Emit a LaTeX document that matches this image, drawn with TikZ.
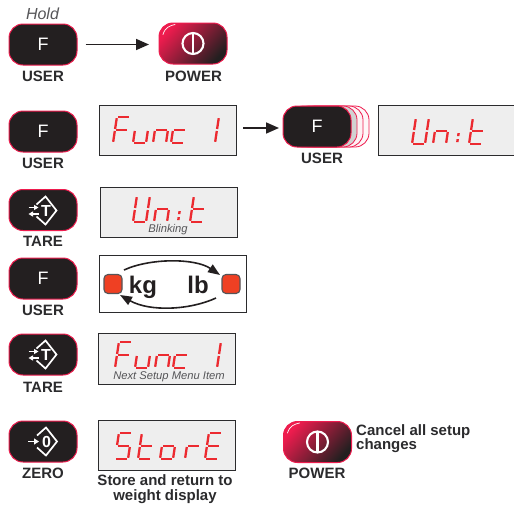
\documentclass[tikz,border=0pt]{standalone}
\usepackage{fontspec}
\setmainfont{Liberation Sans}
\newfontfamily\medfont{Liberation Sans Bold}
\usetikzlibrary{arrows.meta}
\definecolor{btnblack}{HTML}{231F20}
\definecolor{btnred}{HTML}{EE1C4E}
\definecolor{segred}{HTML}{EC2A30}
\definecolor{dispbg}{HTML}{EEEEEE}
\definecolor{inkdark}{HTML}{2B2B2D}
\definecolor{capgray}{HTML}{555558}
\definecolor{ledred}{HTML}{EF4023}
\tikzset{
  btnbox/.style={draw=btnred,line width=1pt,fill=btnblack,rounded corners=14pt,minimum width=68pt,minimum height=41pt,inner sep=0pt,text=white,font=\fontsize{18}{18}\selectfont},
  pwrbox/.style={draw=btnred,line width=1pt,rounded corners=14pt,minimum width=68pt,minimum height=41pt,inner sep=0pt,top color=btnred,middle color=btnred!78!btnblack,bottom color=btnblack,shading angle=48},
  stackbox/.style={draw=btnred,line width=.8pt,rounded corners=14pt,minimum width=68pt,minimum height=41pt,inner sep=0pt},
  keylabel/.style={text=inkdark,font=\medfont\fontsize{15}{15}\selectfont,inner sep=0pt},
  bodytext/.style={text=inkdark,font=\medfont\fontsize{15}{15}\selectfont,inner sep=0pt,align=center},
  dispbox/.style={draw=inkdark,line width=1pt,fill=dispbg,inner sep=0pt},
  capnote/.style={text=capgray,font=\itshape\fontsize{11.2}{11}\selectfont,inner sep=0pt},
  flow/.style={draw=btnblack,line width=1.7pt,-{Triangle[length=13pt,width=11pt]}},
  swing/.style={draw=btnblack,line width=1.6pt,-{Triangle[length=12pt,width=9pt]}},
  segline/.style={draw=segred,line width=2.3pt},
  icon/.style={draw=white,line width=1.5pt},
  ledbox/.style={draw=capgray,line width=1.1pt,fill=ledred,rounded corners=4pt,minimum width=18pt,minimum height=19pt,inner sep=0pt},
  ghost/.style={opacity=0,text opacity=0,inner sep=0pt}
}
\def\W{13}\def\gp{1.2}
\pgfmathsetmacro\Wg{13-1.2}
\newcommand\sga{\draw[segline] (\gp,-26)--(\Wg,-26);}
\newcommand\sgb{\draw[segline] (\W,-24.8)--(\W,-14);}
\newcommand\sgc{\draw[segline] (\W,-12)--(\W,-1.2);}
\newcommand\sgd{\draw[segline] (\gp,0)--(\Wg,0);}
\newcommand\sge{\draw[segline] (0,-12)--(0,-1.2);}
\newcommand\sgf{\draw[segline] (0,-24.8)--(0,-14);}
\newcommand\sgg{\draw[segline] (\gp,-13)--(\Wg,-13);}
\newcommand\segch[3]{\begin{scope}[shift={(#1,#2)},xslant=.15]
  \foreach \s in {#3}{\csname sg\s\endcsname}\end{scope}}
\newcommand\segdots[2]{\begin{scope}[shift={(#1,#2)},xslant=.15]
  \fill[segred] (-1.2,-11) rectangle (1.2,-8);\fill[segred] (-1.2,-5) rectangle (1.2,-2);\end{scope}}
\newcommand\wordFunc[2]{\begin{scope}[shift={(#1,#2)}]
  \segch{0}{0}{a,e,f,g}\segch{20}{0}{c,d,e}\segch{40}{0}{c,e,g}\segch{58}{0}{d,e,g}\segch{89}{0}{b,c}\end{scope}}
\newcommand\wordUnit[2]{\begin{scope}[shift={(#1,#2)}]
  \segch{0}{0}{b,c,d,e,f}\segch{21}{0}{c,e,g}\segdots{45}{0}\segch{57}{0}{d,e,f,g}\end{scope}}
\newcommand\tareicon[2]{\begin{scope}[shift={(#1,#2)}]
  \draw[icon,line width=1.7pt] (-7,-6)--(2,-14)--(13,0)--(2,14)--(-7,6);
  \node[text=white,inner sep=0pt,font=\bfseries\fontsize{16}{16}\selectfont] at (2.5,.5) {T};
  \draw[icon,-{Triangle[length=4.5pt,width=5pt]}] (-15,-3)--(-5,-3);
  \draw[icon,-{Triangle[length=4.5pt,width=5pt]}] (-5,3.5)--(-15,3.5);
\end{scope}}
\newcommand\zeroicon[2]{\begin{scope}[shift={(#1,#2)}]
  \draw[icon,line width=1.7pt] (-7,-6)--(2,-14)--(13,0)--(2,14)--(-7,6);
  \node[text=white,inner sep=0pt,font=\bfseries\fontsize{16}{16}\selectfont] at (2.5,.5) {0};
  \draw[icon,-{Triangle[length=5pt,width=6pt]}] (-16,0)--(-5,0);
\end{scope}}
\newcommand\pwricon[2]{\begin{scope}[shift={(#1,#2)}]
  \draw[icon,line width=2.1pt] (0,0) circle (10.5);
  \draw[icon,line width=2.1pt] (0,-10.5)--(0,10.5);
\end{scope}}
\newcommand\shine[2]{\draw[white,line width=.7pt,line cap=round] (#1-30,#2-9) .. controls (#1-28,#2-16) and (#1-23,#2-18) .. (#1-18,#2-19);}
\begin{document}
\begin{tikzpicture}[x=1pt,y=-1pt]
\useasboundingbox (0,0) rectangle (514,507);
\fill[white] (0,0) rectangle (514,507);

% row 1
\node[capnote,font=\itshape\fontsize{16}{16}\selectfont] (hold) at (42.5,13.5) {Hold};
\node[btnbox] (user1) at (43,44.5) {F};
\node[keylabel] (user1l) at (43,76.5) {USER};
\node[pwrbox] (power1) at (193,43.5) {};
\pwricon{193}{43.5}\shine{193}{43.5}
\node[keylabel] (power1l) at (193.5,76) {POWER};
\draw[flow,shorten >=9.5pt,shorten <=8pt] (user1.east) -- (user1.east -| power1.west);

% row 2
\node[btnbox] (user2) at (43,131.5) {F};
\node[keylabel] (user2l) at (43,163) {USER};
\node[dispbox,minimum width=137pt,minimum height=50pt] (disp1) at (168,130) {};
\wordFunc{113}{143}
\node[stackbox,fill=btnred!4] (st3) at (335,126.5) {};
\node[stackbox,fill=btnred!6] (st2) at (329,126.5) {};
\node[stackbox,fill=black!18] (st1) at (323,126.5) {};
\node[btnbox] (user3) at (317,126.5) {F};
\node[keylabel] (user3l) at (322,158) {USER};
\coordinate (a2) at (279,128);
\coordinate (a1) at (243,128);
\draw[flow] (a1) -- (a2);
\draw[draw=inkdark,line width=1pt,fill=dispbg] (514,105.5) -- (378.5,105.5) -- (378.5,155) -- (514,155);
\wordUnit{412}{144}

% row 3
\node[btnbox] (tare1) at (43,210) {};
\tareicon{43.5}{210.5}
\node[keylabel] (tare1l) at (43,241.5) {TARE};
\node[dispbox,minimum width=137pt,minimum height=50pt] (disp3) at (168.5,212) {};
\wordUnit{133}{222}
\node[capnote] (blink) at (168,230) {Blinking};

% row 4
\node[btnbox] (user4) at (43,278.5) {F};
\node[keylabel] (user4l) at (43,310.5) {USER};
\node[dispbox,fill=white,minimum width=147pt,minimum height=57pt] (disp4) at (172.5,283.5) {};
\node[ledbox] (ledL) at (113,284) {};
\node[ledbox] (ledR) at (231,284) {};
\node[text=btnblack,inner sep=0pt,font=\bfseries\fontsize{24}{24}\selectfont] (kg) at (143,287) {kg};
\node[text=btnblack,inner sep=0pt,font=\bfseries\fontsize{24}{24}\selectfont] (lb) at (198,285) {lb};
\coordinate (t1) at (124,270);\coordinate (t2) at (220,275);
\coordinate (b1) at (216,298);\coordinate (b2) at (120,295);
\draw[swing] (t1) .. controls (150,258) and (195,258) .. (t2);
\draw[swing] (b1) .. controls (190,310) and (150,312) .. (b2);

% row 5
\node[btnbox] (tare2) at (43,354.5) {};
\tareicon{43.5}{354.5}
\node[keylabel] (tare2l) at (43,387) {TARE};
\node[dispbox,minimum width=137pt,minimum height=51pt] (disp5) at (166.5,358.5) {};
\wordFunc{115}{368}
\node[capnote] (next) at (169,376.5) {Next Setup Menu Item};

% row 6
\node[btnbox] (zero) at (43,441.5) {};
\zeroicon{44}{441.5}
\node[keylabel] (zerol) at (43,473) {ZERO};
\node[dispbox,minimum width=137pt,minimum height=50pt] (disp6) at (166.5,445) {};
\begin{scope}[shift={(115,459)}]
  \segch{0}{0}{a,c,d,f,g}
  \segch{23}{0}{d,e,f,g}
  \segch{45}{0}{c,d,e,g}
  \segch{70}{0}{e,g}
  \segch{90}{0}{a,d,e,f,g}
\end{scope}
\node[bodytext] (storetxt) at (165,489) {Store and return to\\[.5pt]weight display};
\node[pwrbox] (power2) at (317.5,442) {};
\pwricon{317.5}{442}\shine{317.5}{442}
\node[keylabel] (power2l) at (317,473.5) {POWER};
\node[bodytext,align=left,anchor=west] (canceltxt) at (356,438.5) {Cancel all setup\\[-.5pt]changes};

% text of the seven-segment readouts
\node[ghost] at (disp1) {Func 1};
\node[ghost] at (442,130) {Unit};
\node[ghost] at (disp3) {Unit};
\node[ghost] at (disp5) {Func 1};
\node[ghost] at (disp6) {StorE};
\end{tikzpicture}
\end{document}
